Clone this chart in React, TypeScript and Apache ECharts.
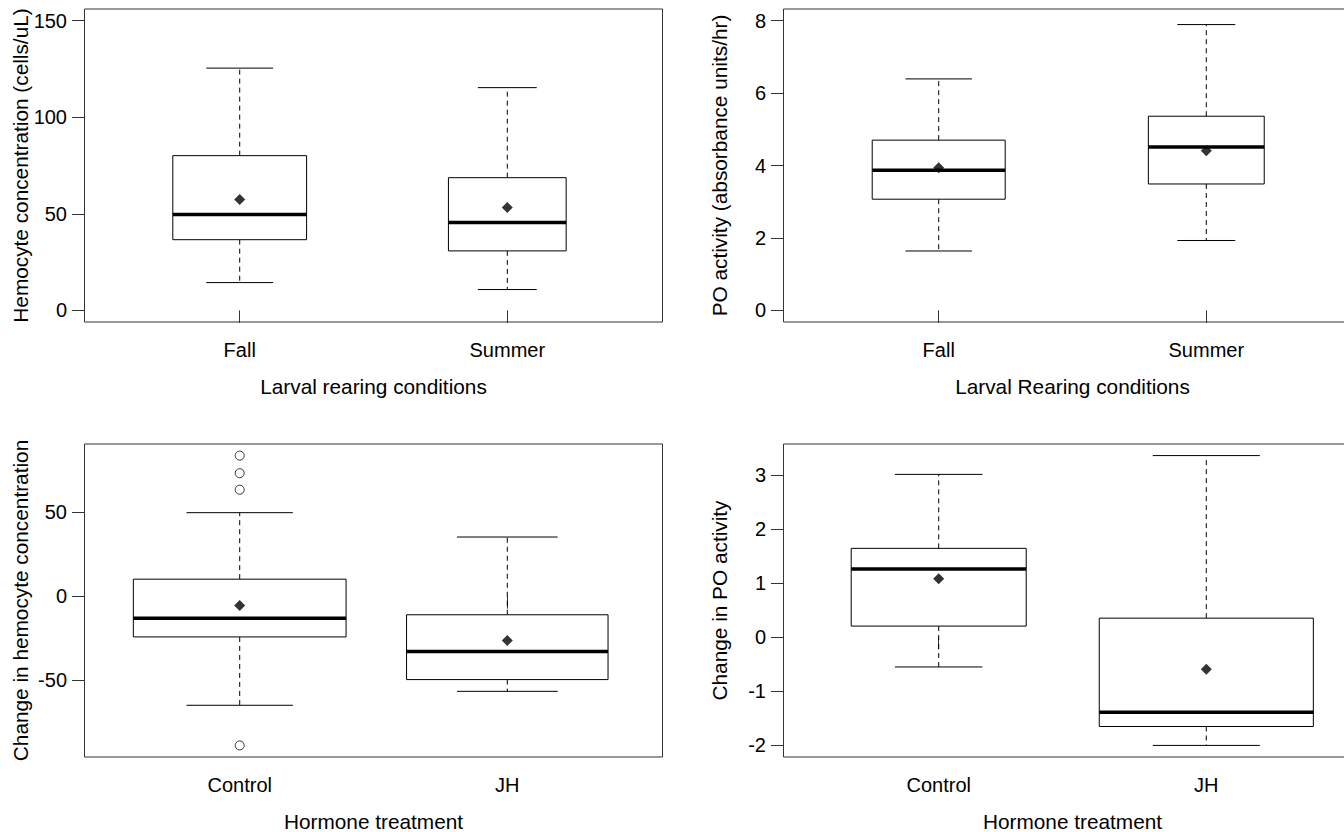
import { useEffect, useRef } from "react";
import * as echarts from "echarts";

// Categories on the two x axes
const seasonCategories = ["Fall", "Summer"];
const hormoneCategories = ["Control", "JH"];

// Hemocyte concentration (cells/uL) by larval rearing conditions
const hemoLower = [14.4, 10.8];
const hemoQ1 = [36.6, 30.8];
const hemoMedian = [49.6, 45.5];
const hemoQ3 = [80.1, 68.7];
const hemoUpper = [125.4, 115.3];
const hemoMean = [57.4, 53.3];
const hemoOutliers: number[][] = [[], []];
const hemoWidths = [0.5, 0.44];
const hemoTicks = [0, 50, 100, 150];
const hemoLimits = [0, 150];

// PO activity (absorbance units/hr) by larval rearing conditions
const poLower = [1.64, 1.93];
const poQ1 = [3.07, 3.49];
const poMedian = [3.87, 4.51];
const poQ3 = [4.7, 5.36];
const poUpper = [6.39, 7.89];
const poMean = [3.94, 4.41];
const poOutliers: number[][] = [[], []];
const poWidths = [0.497, 0.433];
const poTicks = [0, 2, 4, 6, 8];
const poLimits = [0, 8];

// Change in hemocyte concentration by hormone treatment
const dHemoLower = [-65.0, -56.7];
const dHemoQ1 = [-24.3, -49.7];
const dHemoMedian = [-13.1, -33.0];
const dHemoQ3 = [10.1, -11.1];
const dHemoUpper = [49.7, 35.2];
const dHemoMean = [-5.6, -26.4];
const dHemoOutliers: number[][] = [[83.7, 73.2, 63.4, -88.9], []];
const dHemoWidths = [0.795, 0.753];
const dHemoTicks = [-50, 0, 50];

// Change in PO activity by hormone treatment
const dPoLower = [-0.557, -2.01];
const dPoQ1 = [0.2, -1.66];
const dPoMedian = [1.256, -1.397];
const dPoQ3 = [1.64, 0.347];
const dPoUpper = [3.01, 3.358];
const dPoMean = [1.076, -0.6];
const dPoOutliers: number[][] = [[], []];
const dPoWidths = [0.654, 0.8];
const dPoTicks = [-2, -1, 0, 1, 2, 3];

const FONT = "'Liberation Sans', Arial, sans-serif";
const INK = "#000";
const FRAME = "#333";

type Panel = {
  rect: { left: number; top: number; width: number; height: number };
  categories: string[];
  lower: number[];
  q1: number[];
  median: number[];
  q3: number[];
  upper: number[];
  mean: number[];
  outliers: number[][];
  widths: number[];
  ticks: number[];
  limits?: number[];
  xTitle: string;
  yTitle: string;
};

const panels: Panel[] = [
  {
    rect: { left: 84.5, top: 9, width: 578, height: 313 },
    categories: seasonCategories,
    lower: hemoLower, q1: hemoQ1, median: hemoMedian, q3: hemoQ3, upper: hemoUpper,
    mean: hemoMean, outliers: hemoOutliers, widths: hemoWidths,
    ticks: hemoTicks, limits: hemoLimits,
    xTitle: "Larval rearing conditions",
    yTitle: "Hemocyte concentration (cells/uL)",
  },
  {
    rect: { left: 783.5, top: 9, width: 578, height: 313 },
    categories: seasonCategories,
    lower: poLower, q1: poQ1, median: poMedian, q3: poQ3, upper: poUpper,
    mean: poMean, outliers: poOutliers, widths: poWidths,
    ticks: poTicks, limits: poLimits,
    xTitle: "Larval Rearing conditions",
    yTitle: "PO activity (absorbance units/hr)",
  },
  {
    rect: { left: 84.5, top: 444, width: 578, height: 313 },
    categories: hormoneCategories,
    lower: dHemoLower, q1: dHemoQ1, median: dHemoMedian, q3: dHemoQ3, upper: dHemoUpper,
    mean: dHemoMean, outliers: dHemoOutliers, widths: dHemoWidths,
    ticks: dHemoTicks,
    xTitle: "Hormone treatment",
    yTitle: "Change in hemocyte concentration",
  },
  {
    rect: { left: 783.5, top: 444, width: 578, height: 313 },
    categories: hormoneCategories,
    lower: dPoLower, q1: dPoQ1, median: dPoMedian, q3: dPoQ3, upper: dPoUpper,
    mean: dPoMean, outliers: dPoOutliers, widths: dPoWidths,
    ticks: dPoTicks,
    xTitle: "Hormone treatment",
    yTitle: "Change in PO activity",
  },
];

// Extend a range by 4% on each side, like R's default axis style
function padded(lo: number, hi: number): [number, number] {
  const pad = (hi - lo) * 0.04;
  return [lo - pad, hi + pad];
}

function renderBox(_params: any, api: any) {
  const x = api.value(0);
  const w = api.size([api.value(6), 0])[0];
  const cx = api.coord([x, 0])[0];
  const yLo = api.coord([x, api.value(1)])[1];
  const yQ1 = api.coord([x, api.value(2)])[1];
  const yMed = api.coord([x, api.value(3)])[1];
  const yQ3 = api.coord([x, api.value(4)])[1];
  const yHi = api.coord([x, api.value(5)])[1];
  const half = w / 2;
  const cap = w / 4;
  const thin = { stroke: INK, lineWidth: 1, fill: null };
  const dashed = { stroke: INK, lineWidth: 1, lineDash: [5, 4], fill: null };
  return {
    type: "group",
    children: [
      { type: "line", shape: { x1: cx, y1: yQ3, x2: cx, y2: yHi }, style: dashed },
      { type: "line", shape: { x1: cx, y1: yQ1, x2: cx, y2: yLo }, style: dashed },
      { type: "line", shape: { x1: cx - cap, y1: yHi, x2: cx + cap, y2: yHi }, style: thin },
      { type: "line", shape: { x1: cx - cap, y1: yLo, x2: cx + cap, y2: yLo }, style: thin },
      {
        type: "rect",
        shape: { x: cx - half, y: yQ3, width: w, height: yQ1 - yQ3 },
        style: { stroke: INK, lineWidth: 1, fill: "#fff" },
      },
      {
        type: "line",
        shape: { x1: cx - half, y1: yMed, x2: cx + half, y2: yMed },
        style: { stroke: INK, lineWidth: 3.5 },
      },
    ],
  };
}

function buildOption() {
  const grid: any[] = [];
  const xAxis: any[] = [];
  const yAxis: any[] = [];
  const series: any[] = [];

  panels.forEach((p, i) => {
    const n = p.categories.length;
    const [xMin, xMax] = padded(0.5, n + 0.5);
    const allValues = [...p.lower, ...p.upper, ...p.outliers.flat()];
    const [lo, hi] = p.limits
      ? [p.limits[0], p.limits[1]]
      : [Math.min(...allValues), Math.max(...allValues)];
    const [yMin, yMax] = padded(lo, hi);
    const positions = p.categories.map((_, k) => k + 1);

    grid.push({
      ...p.rect,
      show: true,
      borderColor: FRAME,
      borderWidth: 1,
      backgroundColor: "transparent",
      containLabel: false,
      outerBoundsMode: "none",
    });

    xAxis.push({
      type: "value",
      gridIndex: i,
      min: xMin,
      max: xMax,
      axisLine: { show: false },
      splitLine: { show: false },
      axisTick: {
        show: true,
        customValues: positions,
        length: 12.5,
        lineStyle: { color: FRAME, width: 1 },
      },
      axisLabel: {
        customValues: positions,
        margin: 18,
        color: INK,
        fontSize: 20,
        fontFamily: FONT,
        formatter: (v: number) => p.categories[Math.round(v) - 1] ?? "",
      },
      name: p.xTitle,
      nameLocation: "middle",
      nameGap: 54,
      nameMoveOverlap: false,
      nameTextStyle: { color: INK, fontSize: 20.8, fontFamily: FONT },
    });

    yAxis.push({
      type: "value",
      gridIndex: i,
      min: yMin,
      max: yMax,
      axisLine: { show: false },
      splitLine: { show: false },
      axisTick: {
        show: true,
        customValues: p.ticks,
        length: 12.5,
        lineStyle: { color: FRAME, width: 1 },
      },
      axisLabel: {
        customValues: p.ticks,
        margin: 17.5,
        color: INK,
        fontSize: 20,
        fontFamily: FONT,
        formatter: (v: number) => String(v),
      },
      name: p.yTitle,
      nameLocation: "middle",
      nameRotate: 90,
      nameGap: 54,
      nameMoveOverlap: false,
      nameTextStyle: { color: INK, fontSize: 20.8, fontFamily: FONT },
    });

    series.push({
      type: "custom",
      xAxisIndex: i,
      yAxisIndex: i,
      renderItem: renderBox,
      encode: { x: 0, y: [1, 2, 3, 4, 5] },
      data: p.categories.map((_, k) => [
        k + 1,
        p.lower[k],
        p.q1[k],
        p.median[k],
        p.q3[k],
        p.upper[k],
        p.widths[k],
      ]),
      z: 2,
    });

    series.push({
      type: "scatter",
      xAxisIndex: i,
      yAxisIndex: i,
      symbol: "diamond",
      symbolSize: [11, 11],
      itemStyle: { color: INK },
      data: p.mean.map((m, k) => [k + 1, m]),
      z: 4,
    });

    series.push({
      type: "scatter",
      xAxisIndex: i,
      yAxisIndex: i,
      symbol: "circle",
      symbolSize: 9,
      itemStyle: { color: "transparent", borderColor: INK, borderWidth: 1 },
      data: p.outliers.flatMap((vals, k) => vals.map((v) => [k + 1, v])),
      z: 4,
    });
  });

  return {
    animation: false,
    backgroundColor: "#fff",
    grid,
    xAxis,
    yAxis,
    series,
  };
}

export default function App() {
  const ref = useRef<HTMLDivElement>(null);

  useEffect(() => {
    if (!ref.current) return;
    const chart = echarts.init(ref.current, null, { renderer: "svg" });
    chart.setOption(buildOption() as any);
    return () => chart.dispose();
  }, []);

  return (
    <div
      ref={ref}
      style={{
        position: "fixed",
        left: 0,
        top: 0,
        width: 1344,
        height: 832,
        background: "#fff",
      }}
    />
  );
}
